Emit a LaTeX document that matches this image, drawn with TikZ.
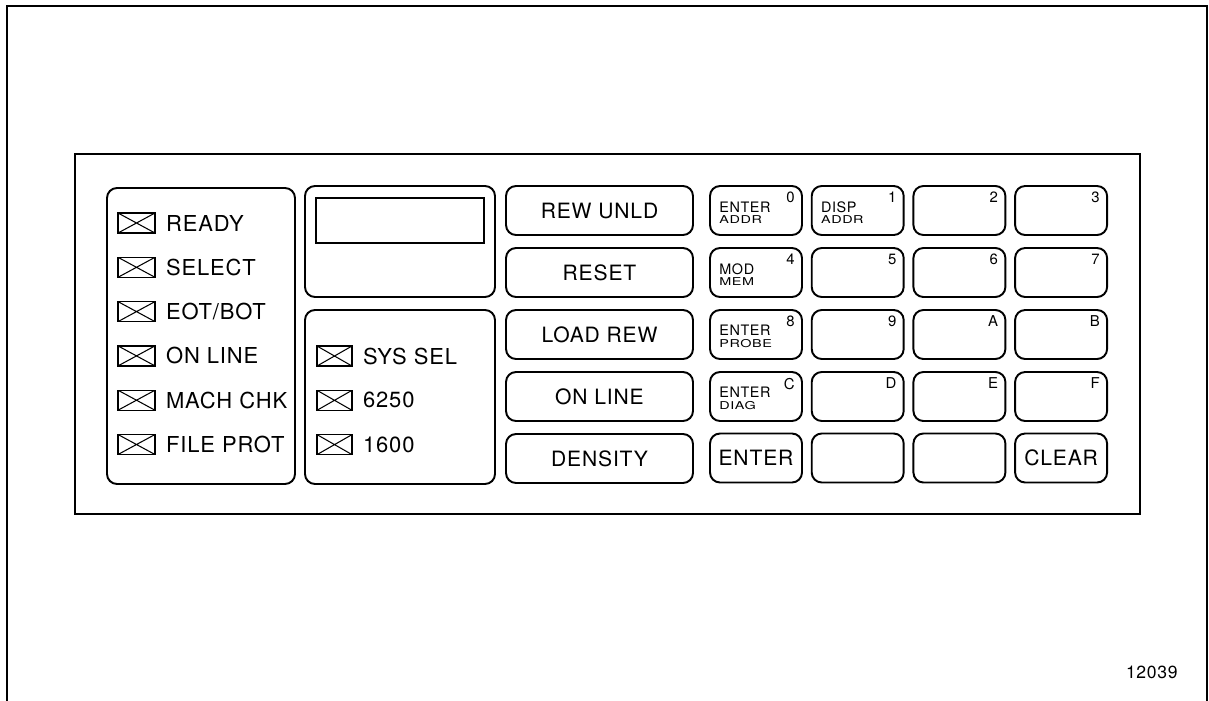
\documentclass[tikz,border=0pt]{standalone}
\usepackage{fontspec}
\setmainfont{TeX Gyre Heros}
\newfontfamily\panelfont[LetterSpace=4]{TeX Gyre Heros}
\usetikzlibrary{positioning,
  calc
}
\tikzstyle{frame} = [line width=1.3pt]
\tikzstyle{box} = [draw, line width=1.1pt, rounded corners=0.2cm]
\tikzstyle{lamp} = [draw, line width=0.8pt, minimum width=0.74cm,
  minimum height=0.40cm, inner sep=0pt,
  path picture={\draw[line width=0.6pt]
    (path picture bounding box.north west) -- (path picture bounding box.south east)
    (path picture bounding box.south west) -- (path picture bounding box.north east);}]
\tikzstyle{lamptext} = [inner sep=0pt, font=\panelfont\fontsize{12.5}{14}\selectfont]
\tikzstyle{button} = [draw, line width=1.1pt, rounded corners=0.2cm,
  minimum width=3.74cm, minimum height=0.98cm, inner sep=0pt,
  font=\panelfont\fontsize{12}{14}\selectfont]
\tikzstyle{keycap} = [button, minimum width=1.84cm]
\tikzstyle{keyname} = [anchor=west, align=left, inner sep=0pt,
  font=\panelfont\fontsize{8.2}{6.5}\selectfont]
\tikzstyle{keydigit} = [anchor=north east, inner sep=0pt,
  font=\panelfont\fontsize{8.5}{9}\selectfont]
\newcommand{\lowline}[1]{\scalebox{1}[0.75]{#1}}

\begin{document}
\begin{tikzpicture}[x=0.02cm, y=-0.02cm]
  \useasboundingbox (0,0) rectangle (1209,700);

  % outer frame, open at the bottom
  \draw[frame] (7,705) -- (7,6) -- (1207,6) -- (1207,705);
  \draw[frame] (75,154) rectangle (1140,514);

  % lamp fields and display
  \draw[box] (107,188) rectangle (295,484);
  \draw[box] (305,186) rectangle (495,297);
  \draw[line width=1.2pt] (316,198) rectangle (484,243);
  \draw[box] (305,310) rectangle (495,484);

  \foreach \name [count=\i from 0] in {READY, SELECT, EOT/BOT, ON LINE, MACH CHK, FILE PROT} {
    \node[lamp] (lamp\i) at (136.5, 223+44.3*\i) {};
    \node[lamptext, right=0.2cm of lamp\i] (lampname\i) {\name};
  }
  \foreach \name [count=\i from 0] in {SYS SEL, 6250, 1600} {
    \node[lamp, minimum width=0.70cm] (sel\i) at (334.5, 356+44.3*\i) {};
    \node[lamptext, right=0.2cm of sel\i] (selname\i) {\name};
  }

  % push buttons
  \foreach \name [count=\i from 0] in {REW UNLD, RESET, LOAD REW, ON LINE, DENSITY}
    \node[button] (btn\i) at (599.5, 210.5+62*\i) {\name};

  % hex keypad
  \foreach \d [count=\i from 0] in {0,1,2,3,4,5,6,7,8,9,A,B,C,D,E,F} {
    \pgfmathtruncatemacro{\row}{\i/4}
    \pgfmathtruncatemacro{\col}{mod(\i,4)}
    \node[keycap] (key\d) at (756+101.7*\col, 210.5+62*\row) {};
    \node[keydigit] (digit\d) at ([shift={(-0.16cm,-0.13cm)}]key\d.north east) {\d};
  }
  \node[keycap] (enter) at (756, 458) {ENTER};
  \node[keycap] (blank1) at (857.7, 458) {};
  \node[keycap] (blank2) at (959.4, 458) {};
  \node[keycap] (clear) at (1061.1, 458) {CLEAR};

  \node[keyname] (name0) at ([shift={(0.2cm,-0.04cm)}]key0.west) {ENTER\\\lowline{ADDR}};
  \node[keyname] (name1) at ([shift={(0.2cm,-0.04cm)}]key1.west) {DISP\\\lowline{ADDR}};
  \node[keyname] (name4) at ([shift={(0.2cm,-0.04cm)}]key4.west) {MOD\\\lowline{MEM}};
  \node[keyname] (name8) at ([shift={(0.2cm,-0.04cm)}]key8.west) {ENTER\\\lowline{PROBE}};
  \node[keyname] (nameC) at ([shift={(0.2cm,-0.04cm)}]keyC.west) {ENTER\\\lowline{DIAG}};

  \node[anchor=east, inner sep=0pt, font=\panelfont\fontsize{10}{12}\selectfont] (figno) at (1178,672) {12039};
\end{tikzpicture}
\end{document}
